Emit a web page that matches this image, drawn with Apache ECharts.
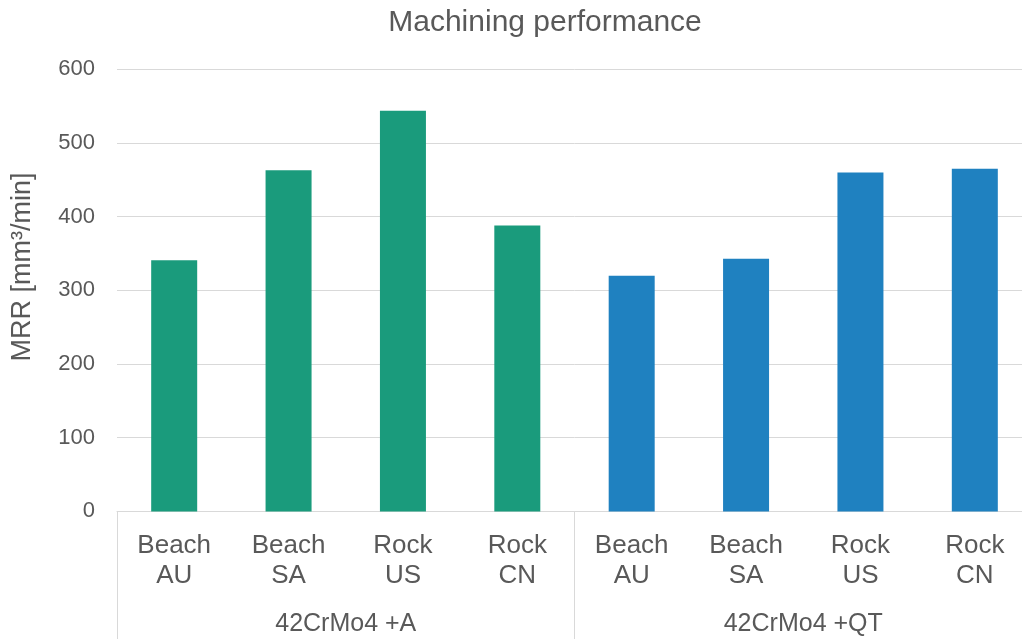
<!DOCTYPE html>
<html>
<head>
<meta charset="utf-8">
<script src="https://cdn.jsdelivr.net/npm/echarts@6/dist/echarts.min.js"></script>
<style>
  html, body { margin: 0; padding: 0; background: #ffffff; overflow: hidden; width: 1022px; height: 639px; }
  /* the plot runs a little past the right edge of the window */
  #chart { width: 1032px; height: 639px; }
</style>
</head>
<body>
<div id="chart"></div>
<script>
// Sand types tested on each steel condition
const sands = ['Beach\nAU', 'Beach\nSA', 'Rock\nUS', 'Rock\nCN'];
const groups = ['42CrMo4 +A', '42CrMo4 +QT'];
// Material removal rate, mm³/min
const mrrAnnealed = [341, 463, 544, 388];
const mrrQT = [320, 343, 460, 465];
const yTicks = [0, 100, 200, 300, 400, 500, 600];
const groupColors = ['#1a9b7c', '#1f81c0'];

const categories = sands.concat(sands);
const barData = mrrAnnealed.map(v => ({ value: v, itemStyle: { color: groupColors[0] } }))
  .concat(mrrQT.map(v => ({ value: v, itemStyle: { color: groupColors[1] } })));

const textColor = '#595959';
const lineColor = '#d9d9d9';
const font = 'Liberation Sans, Arial, sans-serif';

const chart = echarts.init(document.getElementById('chart'), null, { renderer: 'canvas' });
chart.setOption({
  animation: false,
  backgroundColor: '#ffffff',
  grid: { left: 117, right: 0, top: 69.4, bottom: 127.6, containLabel: false },
  xAxis: [
    {
      type: 'category',
      data: categories,
      axisLine: { show: true, lineStyle: { color: lineColor, width: 1 } },
      axisTick: { show: false },
      axisLabel: {
        interval: 0, margin: 19, color: textColor, fontFamily: font,
        fontSize: 26, lineHeight: 30
      }
    },
    {
      type: 'category',
      data: groups,
      position: 'bottom',
      axisLine: { show: false },
      axisTick: { show: true, length: 130, interval: 0, lineStyle: { color: lineColor, width: 1 } },
      axisLabel: { interval: 0, margin: 100, color: textColor, fontFamily: font, fontSize: 25 }
    }
  ],
  yAxis: {
    type: 'value',
    min: yTicks[0],
    max: yTicks[yTicks.length - 1],
    interval: 100,
    axisLine: { show: false },
    axisTick: { show: false },
    splitLine: { lineStyle: { color: lineColor, width: 1 } },
    axisLabel: { margin: 22, color: textColor, fontFamily: font, fontSize: 22 }
  },
  graphic: [
    {
      type: 'text', x: 545, y: 23,
      style: {
        text: 'Machining performance', fill: textColor, font: '30px ' + font,
        textAlign: 'center', textVerticalAlign: 'middle'
      }
    },
    {
      type: 'text', x: 23, y: 267, rotation: Math.PI / 2,
      style: {
        text: 'MRR [mm³/min]', fill: textColor, font: '27px ' + font,
        textAlign: 'center', textVerticalAlign: 'middle'
      }
    }
  ],
  series: [
    {
      type: 'bar',
      xAxisIndex: 0,
      data: barData,
      barWidth: 46
    }
  ]
});
</script>
</body>
</html>
